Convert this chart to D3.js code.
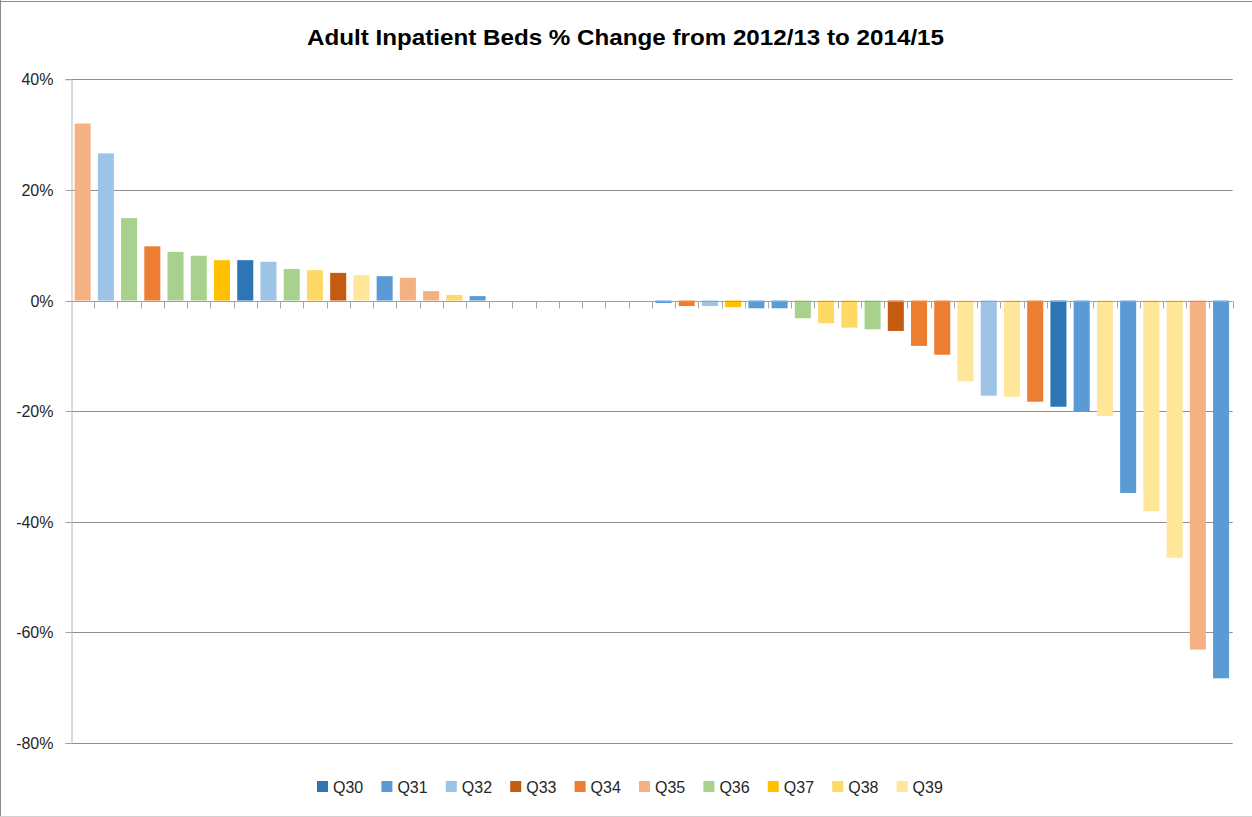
<!DOCTYPE html>
<html>
<head>
<meta charset="utf-8">
<script src="https://cdn.jsdelivr.net/npm/d3@7/dist/d3.min.js"></script>
<style>
  html, body { margin: 0; padding: 0; background: #fff; }
  svg { display: block; }
</style>
</head>
<body>
<svg id="chart" width="1252" height="817"></svg>
<script>
// ---- data ----
const title = "Adult Inpatient Beds % Change from 2012/13 to 2014/15";
const seriesNames = ["Q30","Q31","Q32","Q33","Q34","Q35","Q36","Q37","Q38","Q39"];
const seriesColors = ["#2E75B6","#5B9BD5","#9DC3E6","#C55A11","#ED7D31","#F4B183","#A9D18E","#FFC000","#FFD966","#FFE699"];
const barSeries = ["Q35","Q32","Q36","Q34","Q36","Q36","Q37","Q30","Q32","Q36",
                   "Q38","Q33","Q39","Q31","Q35","Q35","Q38","Q31",
                   null,null,null,null,null,null,null,
                   "Q31","Q34","Q32","Q37","Q31","Q31","Q36","Q38","Q38","Q36",
                   "Q33","Q34","Q34","Q39","Q32","Q39","Q34","Q30","Q31","Q39",
                   "Q31","Q39","Q39","Q35","Q31"];
const barValues = [32.0,26.6,14.9,9.8,8.8,8.1,7.3,7.3,7.0,5.7,
                   5.5,5.0,4.6,4.4,4.1,1.7,1.0,0.8,
                   null,null,null,null,null,null,null,
                   -0.45,-1.0,-1.0,-1.2,-1.4,-1.4,-3.2,-4.1,-4.9,-5.2,
                   -5.5,-8.2,-9.8,-14.6,-17.2,-17.4,-18.3,-19.2,-20.1,-20.9,
                   -34.8,-38.1,-46.5,-63.1,-68.3];
const categories = barValues.map((d, i) => "c" + i);
const yTicks = [40, 20, 0, -20, -40, -60, -80];

// ---- layout ----
const svg = d3.select("#chart");
const W = 1252, H = 817;
const plot = { left: 71, right: 1232.7, top: 79.3, bottom: 743 };

const color = d3.scaleOrdinal().domain(seriesNames).range(seriesColors);
const x = d3.scaleBand().domain(categories).range([plot.left, plot.right]).paddingInner(0.31).paddingOuter(0.155);
const xb = d3.scaleBand().domain(categories).range([plot.left, plot.right]);
const y = d3.scaleLinear().domain([-80, 40]).range([plot.bottom, plot.top]);

// chart border
svg.append("line").attr("x1", 0.5).attr("x2", 0.5).attr("y1", 0).attr("y2", H).attr("stroke", "#8a8a8a");
svg.append("line").attr("x1", 0).attr("x2", W).attr("y1", 1.5).attr("y2", 1.5).attr("stroke", "#8a8a8a");
svg.append("line").attr("x1", 0).attr("x2", W).attr("y1", H - 0.5).attr("y2", H - 0.5).attr("stroke", "#d0d0d0");

// title
svg.append("text")
  .attr("x", 307).attr("y", 44.5)
  .attr("textLength", 637).attr("lengthAdjust", "spacingAndGlyphs")
  .attr("font-family", "'Liberation Sans', Arial, sans-serif")
  .attr("font-weight", "bold").attr("font-size", 22)
  .attr("fill", "#000")
  .text(title);

// gridlines
svg.append("g").selectAll("line")
  .data(yTicks.filter(t => t !== 0))
  .join("line")
  .attr("x1", plot.left).attr("x2", plot.right)
  .attr("y1", d => Math.round(y(d)) + 0.5).attr("y2", d => Math.round(y(d)) + 0.5)
  .attr("stroke", "#8f8f8f").attr("stroke-width", 1);

// y axis
const yAxis = d3.axisLeft(y).tickValues(yTicks).tickFormat(d => d + "%").tickSize(6).tickPadding(12);
const gy = svg.append("g").attr("transform", `translate(${plot.left + 0.5},0)`).call(yAxis);
gy.select(".domain").attr("stroke", "#b8b8b8");
gy.selectAll(".tick line").attr("stroke", "#a0a0a0");
gy.selectAll(".tick text")
  .attr("font-family", "'Liberation Sans', Arial, sans-serif")
  .attr("font-size", 16).attr("fill", "#262626");
gy.selectAll(".tick").attr("transform", d => `translate(0,${Math.round(y(d)) + 0.5})`);

// bars
svg.append("g").selectAll("rect")
  .data(barValues.map((v, i) => ({ v, s: barSeries[i], c: categories[i] })).filter(d => d.v !== null))
  .join("rect")
  .attr("x", d => x(d.c))
  .attr("width", x.bandwidth())
  .attr("y", d => y(Math.max(0, d.v)))
  .attr("height", d => Math.abs(y(d.v) - y(0)))
  .attr("fill", d => color(d.s));

// x axis at zero with boundary ticks
const y0 = Math.round(y(0)) + 0.5;
svg.append("line").attr("x1", plot.left).attr("x2", plot.right).attr("y1", y0).attr("y2", y0).attr("stroke", "#a0a0a0");
svg.append("g").selectAll("line")
  .data(categories)
  .join("line")
  .attr("x1", d => Math.round(xb(d) + xb.bandwidth()) + 0.5)
  .attr("x2", d => Math.round(xb(d) + xb.bandwidth()) + 0.5)
  .attr("y1", y0).attr("y2", y0 + 7)
  .attr("stroke", "#a8a8a8");

// legend
const lg = svg.append("g").selectAll("g")
  .data(seriesNames)
  .join("g")
  .attr("transform", (d, i) => `translate(${317 + i * 64.4},781)`);
lg.append("rect").attr("width", 11).attr("height", 11).attr("fill", d => color(d));
lg.append("text")
  .attr("x", 16).attr("y", 11.5)
  .attr("font-family", "'Liberation Sans', Arial, sans-serif")
  .attr("font-size", 16).attr("fill", "#262626")
  .text(d => d);
</script>
</body>
</html>
